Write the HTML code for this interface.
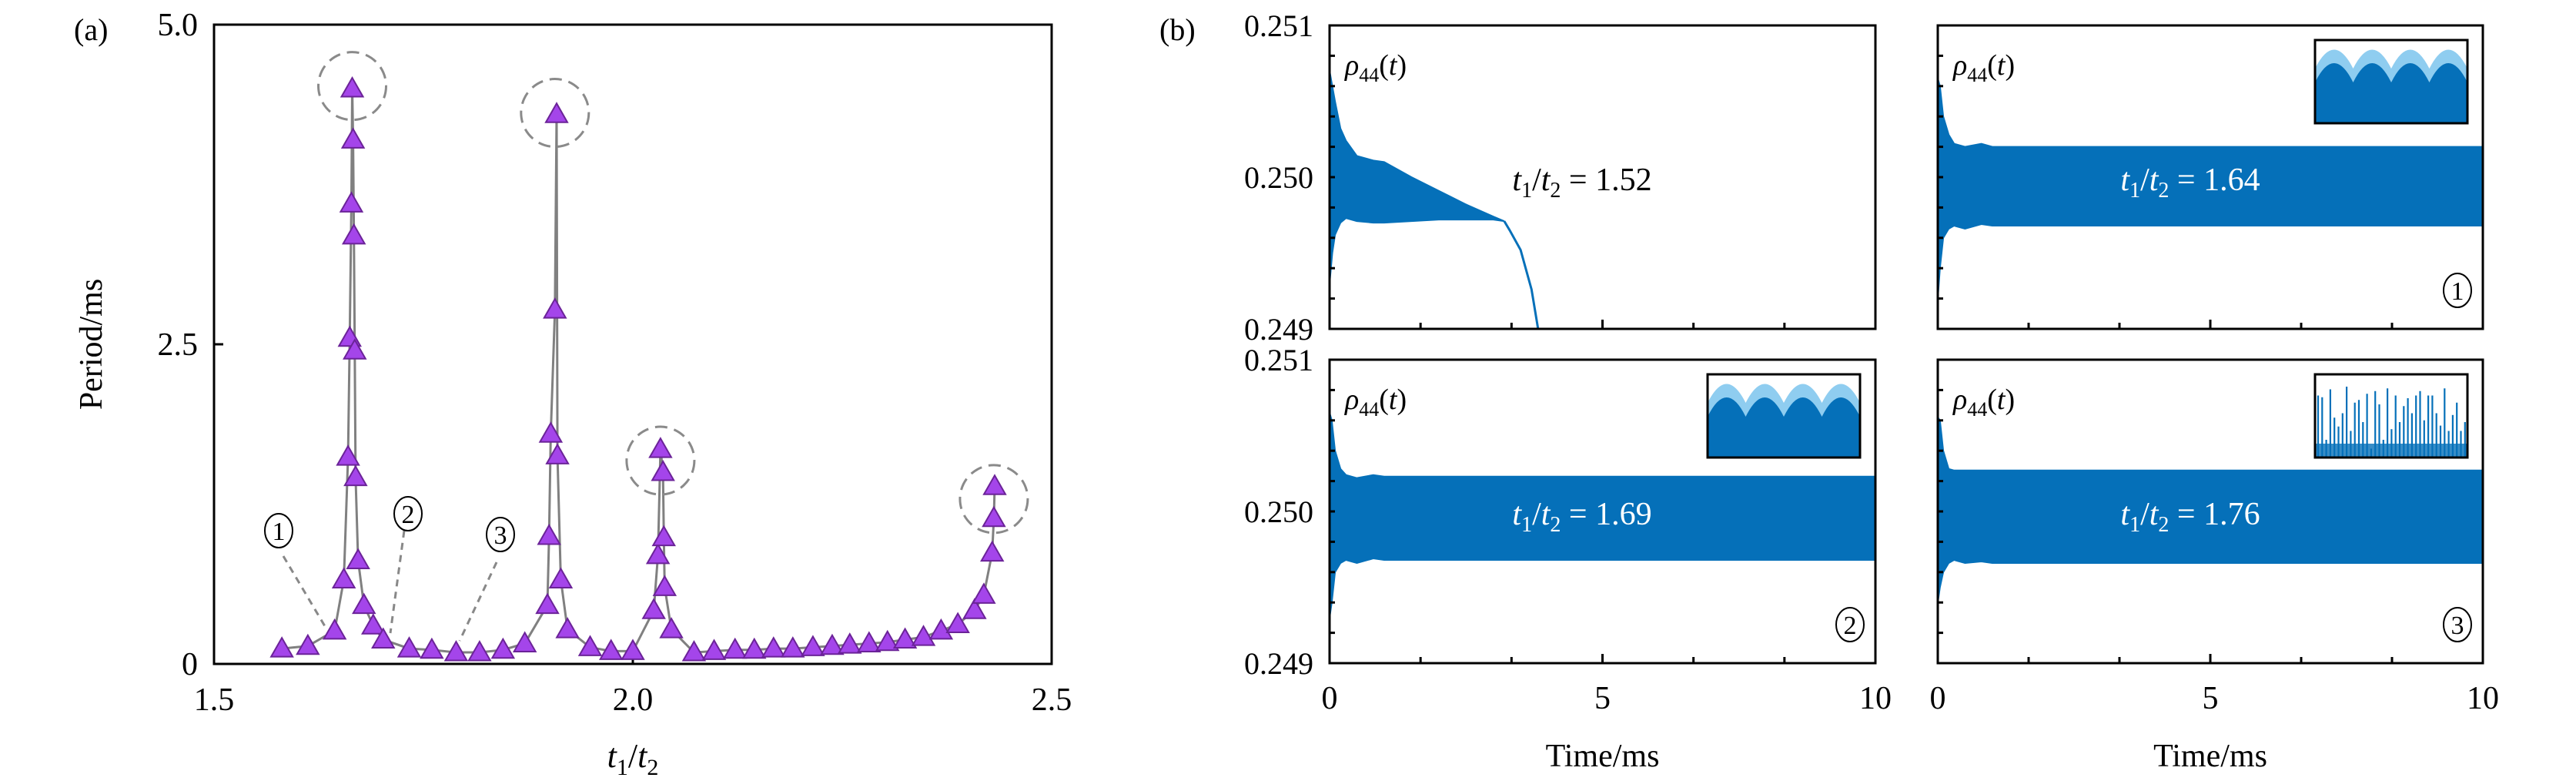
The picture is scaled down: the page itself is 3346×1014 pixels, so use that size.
<!DOCTYPE html>
<html><head><meta charset="utf-8"><style>
body{margin:0;background:#fff}
svg{display:block;font-family:"Liberation Serif",serif}
</style></head><body>
<svg id="fig" width="3346" height="1014" viewBox="0 0 3346 1014" xmlns="http://www.w3.org/2000/svg">
<g id="pa"></g>
<g id="pb"></g>
</svg>
<script>
// Panel (a) data
const periodX = [1.581,1.612,1.644,1.655,1.660,1.662,1.664,1.665,1.666,1.667,1.668,1.669,1.672,1.679,1.690,1.702,1.733,1.760,1.789,1.817,1.845,1.871,1.898,1.900,1.902,1.907,1.909,1.910,1.914,1.922,1.949,1.974,2.000,2.025,2.030,2.033,2.036,2.037,2.038,2.046,2.073,2.097,2.122,2.145,2.168,2.191,2.215,2.238,2.259,2.282,2.304,2.325,2.347,2.368,2.388,2.408,2.419,2.429,2.431,2.432];
const periodY = [0.12,0.14,0.26,0.66,1.62,2.55,3.6,4.5,4.1,3.35,2.45,1.46,0.81,0.46,0.30,0.19,0.12,0.11,0.09,0.09,0.11,0.16,0.46,1.0,1.8,2.77,4.3,1.63,0.66,0.27,0.13,0.10,0.10,0.42,0.85,1.68,1.5,0.99,0.6,0.27,0.09,0.10,0.11,0.11,0.12,0.12,0.13,0.14,0.15,0.16,0.17,0.19,0.21,0.26,0.31,0.42,0.54,0.87,1.14,1.39];
const circleX = [1.665,1.907,2.033,2.431];
const circleY = [4.52,4.31,1.59,1.29];
const xTicksA = [1.5,2.0,2.5];
const xTickLabelsA = ["1.5","2.0","2.5"];
const yTicksA = [0,2.5,5.0];
const yTickLabelsA = ["0","2.5","5.0"];

// Panel (b) data
const tlT = [0,0.05,0.1,0.2,0.3,0.5,0.8,1,1.5,2,2.5,3,3.2];
const tlUpper = [0.2507,0.2506,0.2505,0.25032,0.25024,0.25014,0.25011,0.2501,0.25,0.24991,0.24982,0.24974,0.24971];
const tlLower = [0.2493,0.2495,0.24962,0.2497,0.24973,0.24971,0.2497,0.2497,0.24971,0.24972,0.24972,0.24972,0.24971];
const tailT = [3.2,3.3,3.5,3.7,3.82];
const tailV = [0.24971,0.24965,0.24952,0.24926,0.249];
const bandT = [0,0.04,0.1,0.2,0.3,0.5,0.8,1,10];
const band1Upper = [0.25065,0.2506,0.2504,0.25028,0.25022,0.2502,0.25022,0.2502,0.2502];
const band1Lower = [0.2492,0.2494,0.2496,0.24966,0.24968,0.24966,0.24969,0.24968,0.24968];
const band2Upper = [0.25065,0.2506,0.2504,0.25028,0.25024,0.25022,0.25024,0.25023,0.25023];
const band2Lower = [0.2493,0.2494,0.2496,0.24966,0.24968,0.24966,0.24969,0.24968,0.24968];
const band3Upper = [0.25062,0.2506,0.2504,0.25028,0.25027,0.25027,0.25027,0.25027,0.25027];
const band3Lower = [0.2494,0.2495,0.2496,0.24966,0.24968,0.24966,0.24967,0.24966,0.24966];
const xTicksB = [0,5,10];
const xTickLabelsB = ["0","5","10"];
const yTicksB = [0.249,0.250,0.251];
const yTickLabelsB = ["0.249","0.250","0.251"];

const NS="http://www.w3.org/2000/svg";
function mk(parent,tag,attrs,text){const e=document.createElementNS(NS,tag);for(const k in attrs)e.setAttribute(k,attrs[k]);if(text!==undefined)e.textContent=text;parent.appendChild(e);return e;}
const BLUE="#0570b9";
function circled(parent,cx,cy,digit){
  const g=mk(parent,'g',{});
  
  
  mk(g,'ellipse',{cx:cx,cy:cy,rx:18,ry:22,fill:'none',stroke:'#000','stroke-width':2});
  mk(g,'text',{x:cx,y:cy+12,'font-size':34,'text-anchor':'middle'},digit);
}

// ---------- Panel a ----------
const pa=document.getElementById('pa');
const AL=278,AR=1366,AT=32,AB=862;
const ax=x=>AL+(x-1.5)*(AR-AL);
const ay=y=>AB-y/5*(AB-AT);
let t=mk(pa,'text',{x:96,y:52,'font-size':40},'(a)');


xTicksA.forEach((v,i)=>{
  const l=mk(pa,'line',{x1:ax(v),x2:ax(v),y1:AB,y2:AB-12,stroke:'#000','stroke-width':3});
  
  
  const tx=mk(pa,'text',{x:ax(v),y:922,'font-size':42,'text-anchor':'middle'},xTickLabelsA[i]);
  
  
});
yTicksA.forEach((v,i)=>{
  const l=mk(pa,'line',{x1:AL,x2:AL+12,y1:ay(v),y2:ay(v),stroke:'#000','stroke-width':3});
  
  
  const tx=mk(pa,'text',{x:257,y:ay(v)+14,'font-size':42,'text-anchor':'end'},yTickLabelsA[i]);
  
  
});
let yl=mk(pa,'text',{x:0,y:0,'font-size':42,'text-anchor':'middle',transform:'translate(132,447) rotate(-90)'},'Period/ms');


let xl=mk(pa,'text',{x:822,y:996,'font-size':44,'text-anchor':'middle','font-style':'italic'});


xl.innerHTML='t<tspan font-size="30" dy="10" font-style="normal">1</tspan><tspan dy="-10" font-style="normal">/</tspan>t<tspan font-size="30" dy="10" font-style="normal">2</tspan>';
[[368,722,422,813],[525,689,507,822],[645,730,597,832]].forEach(c=>{
  const l=mk(pa,'line',{x1:c[0],y1:c[1],x2:c[2],y2:c[3],stroke:'#888','stroke-width':3,'stroke-dasharray':'9,7'});
  
  
});
circled(pa,362,689,'1');
circled(pa,530,667,'2');
circled(pa,650,694,'3');
let pts=periodX.map((x,i)=>ax(x)+','+ay(periodY[i])).join(' ');
let pl=mk(pa,'polyline',{points:pts,fill:'none',stroke:'#808080','stroke-width':3});


periodX.forEach((x,i)=>{
  const cx=ax(x),cy=ay(periodY[i]),s=14;
  const p=mk(pa,'polygon',{points:`${cx},${cy-s} ${cx-s},${cy+s*0.75} ${cx+s},${cy+s*0.75}`,fill:'#a445ea',stroke:'#6b2398','stroke-width':2});
  
  
});
circleX.forEach((x,i)=>{
  const c=mk(pa,'ellipse',{cx:ax(x),cy:ay(circleY[i]),rx:44,ry:44,fill:'none',stroke:'#8a8a8a','stroke-width':3,'stroke-dasharray':'16,9'});
  
  
});
let fa=mk(pa,'rect',{x:AL,y:AT,width:AR-AL,height:AB-AT,fill:'none',stroke:'#000','stroke-width':3});



// ---------- Panel b ----------
const pb=document.getElementById('pb');
let lb=mk(pb,'text',{x:1506,y:52,'font-size':40},'(b)');


const subs=[
 {L:1727,R:2436,T:33,B:427,upper:tlUpper,lower:tlLower,times:tlT,label:'1.52',white:false,tag:null,inset:null,ytl:true,xtl:false,name:'subplot-1-52'},
 {L:2517,R:3225,T:33,B:427,upper:band1Upper,lower:band1Lower,times:bandT,label:'1.64',white:true,tag:'1',inset:'arc',ytl:false,xtl:false,name:'subplot-1-64'},
 {L:1727,R:2436,T:467,B:861,upper:band2Upper,lower:band2Lower,times:bandT,label:'1.69',white:true,tag:'2',inset:'arc',ytl:true,xtl:true,name:'subplot-1-69'},
 {L:2517,R:3225,T:467,B:861,upper:band3Upper,lower:band3Lower,times:bandT,label:'1.76',white:true,tag:'3',inset:'spike',ytl:false,xtl:true,name:'subplot-1-76'}
];
subs.forEach((s,si)=>{
  const g=mk(pb,'g',{});
  
  
  const sx=v=>s.L+v/10*(s.R-s.L);
  const sy=v=>s.B-(v-0.249)/0.002*(s.B-s.T);
  const up=s.times.map((tt,i)=>sx(tt)+','+sy(s.upper[i]));
  const lo=s.times.map((tt,i)=>sx(tt)+','+sy(s.lower[i])).reverse();
  const band=mk(g,'polygon',{points:up.concat(lo).join(' '),fill:BLUE,stroke:BLUE,'stroke-width':2});
  
  
  if(si===0){
    const tl=mk(g,'polyline',{points:tailT.map((tt,i)=>sx(tt)+','+sy(tailV[i])).join(' '),fill:'none',stroke:BLUE,'stroke-width':3});
    
    
  }
  for(let k=1;k<10;k++){
    const yv=s.B-k*(s.B-s.T)/10;
    const l=mk(g,'line',{x1:s.L,x2:s.L+7,y1:yv,y2:yv,stroke:'#000','stroke-width':3});
    
    
  }
  for(let k=1;k<6;k++){
    const xv=s.L+k*(s.R-s.L)/6;
    const l=mk(g,'line',{x1:xv,x2:xv,y1:s.B,y2:s.B-(k===3?12:8),stroke:'#000','stroke-width':3});
    
    
  }
  if(s.ytl){
    yTicksB.forEach((v,i)=>{
      const tx=mk(g,'text',{x:1706,y:sy(v)+14,'font-size':40,'text-anchor':'end'},yTickLabelsB[i]);
      
      
    });
  }
  if(s.xtl){
    xTicksB.forEach((v,i)=>{
      const tx=mk(g,'text',{x:sx(v),y:920,'font-size':42,'text-anchor':'middle'},xTickLabelsB[i]);
      
      
    });
    const xt=mk(g,'text',{x:(s.L+s.R)/2,y:995,'font-size':42,'text-anchor':'middle'},'Time/ms');
    
    
  }
  const rho=mk(g,'text',{x:s.L+20,y:s.T+64,'font-size':38,'font-style':'italic'});
  
  
  rho.innerHTML='ρ<tspan font-size="26" dy="9" font-style="normal">44</tspan><tspan dy="-9" font-style="normal">(</tspan>t<tspan font-style="normal">)</tspan>';
  const lab=mk(g,'text',{x:s.L+328,y:s.T+214,'font-size':42,'text-anchor':'middle','font-style':'italic',fill:s.white?'#fff':'#000'});
  
  
  lab.innerHTML='t<tspan font-size="28" dy="9" font-style="normal">1</tspan><tspan dy="-9" font-style="normal">/</tspan>t<tspan font-size="28" dy="9" font-style="normal">2</tspan><tspan dy="-9" font-style="normal"> = '+s.label+'</tspan>';
  if(s.tag){ circled(g,s.R-33,s.B-50,s.tag); }
  if(s.inset){
    const IL=s.R-218,IR=s.R-20,IT=s.T+19,IB=s.T+127;
    const ig=mk(g,'g',{});
    
    
    if(s.inset==='arc'){
      let d=`M${IL},${IB} L${IL},${IT+37}`;
      for(let a=0;a<4;a++){const x0=IL+a*49.5;d+=` Q${x0+24.75},${IT-12} ${x0+49.5},${IT+37}`;}
      d+=` L${IR},${IB} Z`;
      mk(ig,'path',{d:d,fill:'#8fcdf0'});
      let d2=`M${IL},${IB} L${IL},${IT+55}`;
      for(let a=0;a<4;a++){const x0=IL+a*49.5;d2+=` Q${x0+24.75},${IT+5} ${x0+49.5},${IT+55}`;}
      d2+=` L${IR},${IB} Z`;
      mk(ig,'path',{d:d2,fill:BLUE});
      mk(ig,'rect',{x:IL,y:IT+70,width:IR-IL,height:IB-IT-70,fill:BLUE});
    } else {
      const hs=[70,68,20,77,45,35,50,80,30,62,65,40,72,10,75,60,20,78,32,70,40,58,67,50,70,75,42,70,70,50,36,78,30,48,62,30,40];
      hs.forEach((h,i)=>{const x=IL+4+i*5.3;mk(ig,'line',{x1:x,x2:x,y1:IB,y2:IB-h*1.15,stroke:BLUE,'stroke-width':2.2});});
      mk(ig,'rect',{x:IL,y:IB-18,width:IR-IL,height:18,fill:BLUE,opacity:0.8});
    }
    mk(ig,'rect',{x:IL,y:IT,width:IR-IL,height:IB-IT,fill:'none',stroke:'#000','stroke-width':3});
  }
  const fr=mk(g,'rect',{x:s.L,y:s.T,width:s.R-s.L,height:s.B-s.T,fill:'none',stroke:'#000','stroke-width':3});
  
  
});
</script>
</body></html>
